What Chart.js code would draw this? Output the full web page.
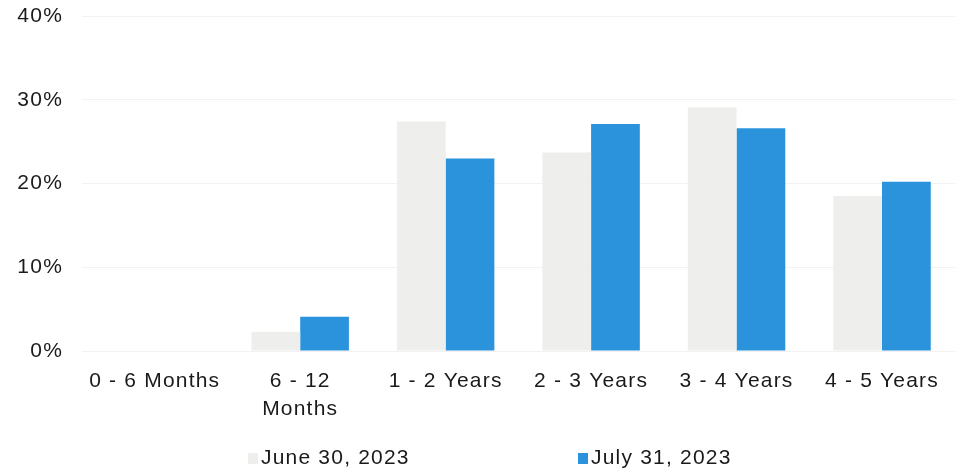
<!DOCTYPE html>
<html lang="en">
<head>
  <meta charset="UTF-8">
  <title>Maturity Distribution</title>
  <script src="https://cdn.jsdelivr.net/npm/chart.js@4.4.1/dist/chart.umd.min.js"></script>
  <style>
    html, body { margin: 0; padding: 0; background: #fff; }
    .wrap { position: relative; width: 955px; height: 469px; }
    #legend { position: absolute; left: 0; top: 445px; width: 955px; height: 24px; line-height: 24px;
              font-family: "Liberation Sans", Arial, sans-serif; font-size: 21px; letter-spacing: 1.2px; color: #1a1a1a; }
    #legend span { position: absolute; top: 0; white-space: nowrap; }
    #legend i { display: inline-block; width: 10px; height: 11px; margin-right: 3px; vertical-align: 0; }
  </style>
</head>
<body>
<div class="wrap">
  <canvas id="bucketChart" width="955" height="469"></canvas>
  <div id="legend"></div>
</div>

<script>
  // maturity buckets
  const categories = ['0 - 6 Months', ['6 - 12', 'Months'], '1 - 2 Years', '2 - 3 Years', '3 - 4 Years', '4 - 5 Years'];
  const seriesNames = ['June 30, 2023', 'July 31, 2023'];
  const june = [0, 2.3, 27.4, 23.7, 29.1, 18.5];
  const july = [0, 4.1, 23.0, 27.1, 26.6, 20.2];
  const yTicks = [0, 10, 20, 30, 40];

  const colors = ['#eeeeec', '#2a93dc'];
  const tickFont = { family: '"Liberation Sans", Arial, sans-serif', size: 21, lineHeight: 1.35 };

  // the scanned source has wide-set lettering
  const spacing = {
    id: 'spacing',
    beforeUpdate: chart => { chart.ctx.letterSpacing = '1.2px'; },
    beforeDraw: chart => { chart.ctx.letterSpacing = '1.2px'; }
  };

  const ctx = document.getElementById('bucketChart').getContext('2d');
  new Chart(ctx, {
    type: 'bar',
    data: {
      labels: categories,
      datasets: [
        { label: seriesNames[0], data: june, backgroundColor: colors[0] },
        { label: seriesNames[1], data: july, backgroundColor: colors[1] }
      ]
    },
    plugins: [spacing],
    options: {
      responsive: false,
      animation: false,
      layout: { padding: { left: 0, right: 0, top: 0, bottom: 48 } },
      datasets: { bar: { categoryPercentage: 0.67, barPercentage: 1.0 } },
      plugins: { legend: { display: false }, tooltip: { enabled: false } },
      scales: {
        x: {
          afterFit: axis => { axis.height = 70; },
          grid: { display: false, drawTicks: false },
          border: { display: false },
          ticks: { color: '#1a1a1a', font: tickFont, maxRotation: 0, autoSkip: false, padding: 16 }
        },
        y: {
          min: yTicks[0],
          max: yTicks[yTicks.length - 1],
          afterBuildTicks: axis => { axis.ticks = yTicks.map(v => ({ value: v })); },
          afterFit: axis => { axis.width = 82; axis.paddingTop = 16; axis.paddingBottom = 14; },
          grid: { color: '#f2f2f2', drawTicks: false },
          border: { display: false },
          ticks: { color: '#1a1a1a', font: tickFont, padding: 19, callback: v => v + '%' }
        }
      }
    }
  });

  // legend spread out like the source
  const legendPos = [248, 578];
  document.getElementById('legend').innerHTML = seriesNames.map((name, i) =>
    `<span style="left:${legendPos[i]}px"><i style="background:${colors[i]}"></i>${name}</span>`
  ).join('');
</script>
</body>
</html>
